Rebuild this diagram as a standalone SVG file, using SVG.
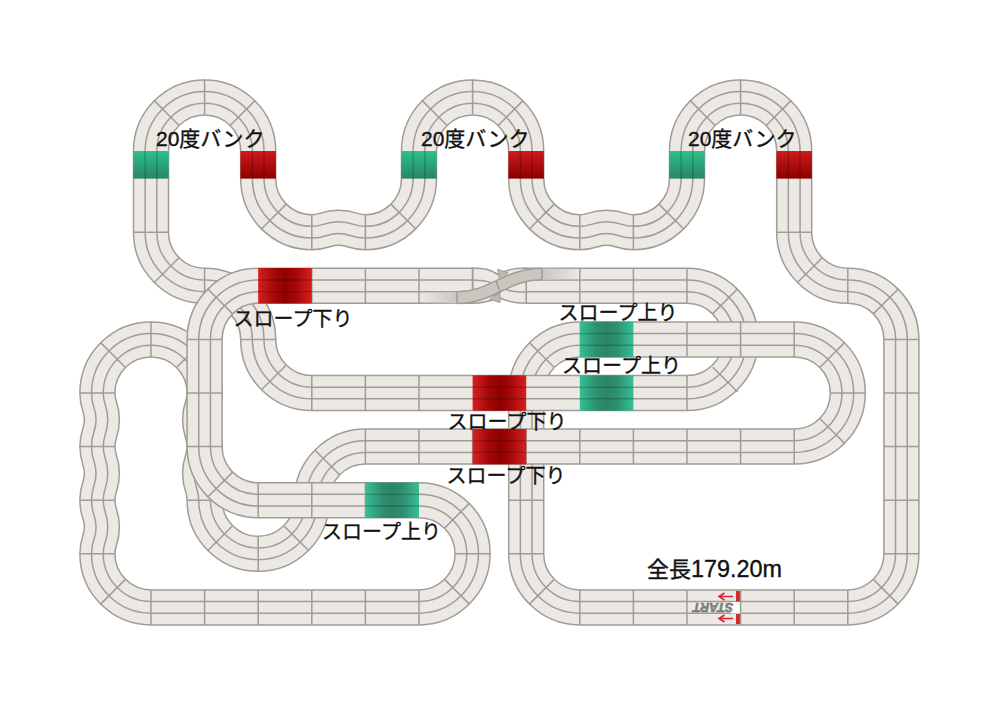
<svg xmlns="http://www.w3.org/2000/svg" width="1000" height="707" viewBox="0 0 1000 707">
<style>
.l1{fill:none;stroke:#a09c96;stroke-width:36.5}
.l2{fill:none;stroke:#ece8e3;stroke-width:33.5}
.l3{fill:none;stroke:#a09c96;stroke-width:13.2}
.l4{fill:none;stroke:#ece8e3;stroke-width:10.2}
.tie{fill:none;stroke:#a09c96;stroke-width:1.5}
.lane{fill:none;stroke:#000;stroke-opacity:.2;stroke-width:1.4}
.lbl{font-family:"Liberation Sans","Noto Sans CJK JP",sans-serif;font-size:20px;fill:#111;stroke:#111;stroke-width:.35}
</style>
<defs>
<linearGradient id="bankG" x1="0" y1="0" x2="0" y2="1"><stop offset="0" stop-color="#2cc08c"/><stop offset="1" stop-color="#2a8566"/></linearGradient>
<linearGradient id="bankR" x1="0" y1="0" x2="0" y2="1"><stop offset="0" stop-color="#d01a1a"/><stop offset="1" stop-color="#8a0000"/></linearGradient>
<linearGradient id="slopeG"><stop offset="0" stop-color="#36c093"/><stop offset=".3" stop-color="#2e9072"/><stop offset=".5" stop-color="#2c8568"/><stop offset=".7" stop-color="#2e9072"/><stop offset="1" stop-color="#36c093"/></linearGradient>
<linearGradient id="slopeR"><stop offset="0" stop-color="#d81f1f"/><stop offset=".3" stop-color="#a30808"/><stop offset=".5" stop-color="#900000"/><stop offset=".7" stop-color="#a30808"/><stop offset="1" stop-color="#d81f1f"/></linearGradient>
<linearGradient id="fadeL"><stop offset="0" stop-color="#c9c6c0" stop-opacity="0"/><stop offset="1" stop-color="#c9c6c0"/></linearGradient>
<linearGradient id="fadeR"><stop offset="0" stop-color="#c9c6c0"/><stop offset="1" stop-color="#c9c6c0" stop-opacity="0"/></linearGradient>
<path id="p1" d="M579.8 339.4A53.6 53.6 0 0 0 526.2 393V553.8A53.6 53.6 0 0 0 579.8 607.4H847.8A53.6 53.6 0 0 0 901.4 553.8V339.4A53.6 53.6 0 0 0 847.8 285.8A53.6 53.6 0 0 1 794.2 232.2V151A53.6 53.6 0 0 0 687 151V178.6A53.6 53.6 0 0 1 633.4 232.2C620 232.2 620 227.7 606.6 227.7C593.2 227.7 593.2 232.2 579.8 232.2A53.6 53.6 0 0 1 526.2 178.6V151A53.6 53.6 0 0 0 419 151V178.6A53.6 53.6 0 0 1 365.4 232.2C352 232.2 352 227.7 338.6 227.7C325.2 227.7 325.2 232.2 311.8 232.2A53.6 53.6 0 0 1 258.2 178.6V151A53.6 53.6 0 0 0 151 151V232.2A53.6 53.6 0 0 0 204.6 285.8A53.6 53.6 0 0 1 258.2 339.4A53.6 53.6 0 0 0 311.8 393"/>
<path id="p2" d="M311.8 393H687A53.6 53.6 0 0 0 740.6 339.4A53.6 53.6 0 0 0 687 285.8H526.2"/>
<path id="p3" d="M151 607.4A53.6 53.6 0 0 1 97.4 553.8C97.4 540.4 101.9 540.4 101.9 527C101.9 513.6 97.4 513.6 97.4 500.2C97.4 486.8 101.9 486.8 101.9 473.4C101.9 460 97.4 460 97.4 446.6C97.4 433.2 101.9 433.2 101.9 419.8C101.9 406.4 97.4 406.4 97.4 393A53.6 53.6 0 0 1 204.6 393C204.6 406.4 200.1 406.4 200.1 419.8C200.1 433.2 204.6 433.2 204.6 446.6C204.6 460 200.1 460 200.1 473.4C200.1 486.8 204.6 486.8 204.6 500.2A53.6 53.6 0 0 0 258.2 553.8A53.6 53.6 0 0 0 311.8 500.2A53.6 53.6 0 0 1 365.4 446.6H794.2A53.6 53.6 0 0 0 847.8 393A53.6 53.6 0 0 0 794.2 339.4H579.8"/>
<path id="p4" d="M472.6 285.8H258.2A53.6 53.6 0 0 0 204.6 339.4V446.6A53.6 53.6 0 0 0 258.2 500.2H419A53.6 53.6 0 0 1 472.6 553.8A53.6 53.6 0 0 1 419 607.4H151"/>
</defs>
<rect width="1000" height="707" fill="#fff"/>
<g id="connectors">
<g id="track-low">
<use href="#p1" class="l1"/><use href="#p1" class="l2"/><use href="#p1" class="l3"/><use href="#p1" class="l4"/>
<path class="tie" d="M554 367.2L529.2 342.4M508.7 446.6H543.7M508.7 500.2H543.7M508.7 553.8H543.7M554 579.6L529.2 604.4M579.8 589.9V624.9M633.4 589.9V624.9M687 589.9V624.9M794.2 589.9V624.9M847.8 589.9V624.9M873.6 579.6L898.4 604.4M883.9 553.8H918.9M883.9 500.2H918.9M883.9 446.6H918.9M883.9 393H918.9M883.9 339.4H918.9M873.6 313.6L898.4 288.8M847.8 268.3V303.3M822 258L797.2 282.8M776.7 232.2H811.7M766.4 125.2L791.2 100.4M740.6 114.5V79.5M714.8 125.2L690 100.4M659.2 204.4L684 229.2M633.4 214.7V249.7M579.8 214.7V249.7M554 204.4L529.2 229.2M498.4 125.2L523.2 100.4M472.6 114.5V79.5M446.8 125.2L422 100.4M391.2 204.4L416 229.2M365.4 214.7V249.7M311.8 214.7V249.7M286 204.4L261.2 229.2M230.4 125.2L255.2 100.4M204.6 114.5V79.5M178.8 125.2L154 100.4M133.5 232.2H168.5M178.8 258L154 282.8M204.6 268.3V303.3M230.4 313.6L255.2 288.8M240.7 339.4H275.7M286 365.2L261.2 390"/>
</g>
<g id="track-mid">
<use href="#p2" class="l1"/><use href="#p2" class="l2"/><use href="#p2" class="l3"/><use href="#p2" class="l4"/>
<path class="tie" d="M311.8 375.5V410.5M365.4 375.5V410.5M419 375.5V410.5M687 375.5V410.5M712.8 367.2L737.6 392M712.8 313.6L737.6 288.8M687 268.3V303.3M633.4 268.3V303.3M579.8 268.3V303.3M526.2 268.3V303.3"/>
</g>
<g id="track-upper">
<use href="#p3" class="l1"/><use href="#p3" class="l2"/><use href="#p3" class="l3"/><use href="#p3" class="l4"/>
<path class="tie" d="M79.9 553.8H114.9M79.9 500.2H114.9M79.9 446.6H114.9M79.9 393H114.9M125.2 367.2L100.4 342.4M151 357.5V321.5M176.8 367.2L201.6 342.4M187.1 500.2H222.1M232.4 526L207.6 550.8M258.2 536.3V571.3M284 526L308.8 550.8M125.2 579.6L100.4 604.4M339.6 474.8L314.8 450M365.4 429.1V464.1M419 429.1V464.1M472.6 429.1V464.1M526.2 429.1V464.1M579.8 429.1V464.1M633.4 429.1V464.1M687 429.1V464.1M740.6 429.1V464.1M794.2 429.1V464.1M820 418.8L844.8 443.6M830.3 393H865.3M820 367.2L844.8 342.4M794.2 321.9V356.9M740.6 321.9V356.9M687 321.9V356.9"/>
</g>
<g id="track-top">
<use href="#p4" class="l1"/><use href="#p4" class="l2"/><use href="#p4" class="l3"/><use href="#p4" class="l4"/>
<path class="tie" d="M419 268.3V303.3M365.4 268.3V303.3M311.8 268.3V303.3M232.4 313.6L207.6 288.8M187.1 339.4H222.1M187.1 393H222.1M187.1 446.6H222.1M232.4 472.4L207.6 497.2M258.2 482.7V517.7M311.8 482.7V517.7M365.4 482.7V517.7M444.8 527.9L469.6 503.1M455 553.8H490M444.8 579.6L469.6 604.4M419 589.9V624.9M365.4 589.9V624.9M311.8 589.9V624.9M258.2 589.9V624.9M204.6 589.9V624.9M151 589.9V624.9"/>
</g>
<g id="track-crossover">
<path d="M472.6 268C485 268 491 270 498 274.5C505 270 512 268 526.2 268V303.3C512 303.3 505 301 498 297C491 301 485 303.3 472.6 303.3Z" fill="#ece8e3" stroke="#a09c96" stroke-width="1.5"/>
<path class="tie" d="M472.6 280C488 280 492 283 500 287C508 291 514 292 526.2 292"/>
<path class="tie" d="M472.6 268.3V303.3"/>
<path d="M497.7 269.3L508 272.7L500 281.7ZM490 299.3L500 302.7L500 290.7Z" fill="#bdbab4" stroke="#a09c96"/>
<rect x="420" y="292" width="37" height="11.5" fill="url(#fadeL)"/>
<rect x="542" y="268.5" width="38" height="11.5" fill="url(#fadeR)"/>
<path d="M457 297.6C492 297.6 506 274 542 274" fill="none" stroke="#a09c96" stroke-width="13.2"/>
<path d="M457 297.6C492 297.6 506 274 542 274" fill="none" stroke="#c9c6c0" stroke-width="10.2"/>
<path class="tie" d="M457 291.5V303.5M542 268V280M496 281L500 291L495 296"/>
</g>
</g>
<g id="bank-sections">
<g id="bank-g1"><rect x="133.2" y="151" width="35.5" height="27.6" fill="url(#bankG)"/><path class="lane" d="M145.2 151V178.6M156.9 151V178.6"/></g>
<g id="bank-r1"><rect x="240.4" y="151" width="35.5" height="27.6" fill="url(#bankR)"/><path class="lane" d="M252.4 151V178.6M264 151V178.6"/></g>
<g id="bank-g2"><rect x="401.2" y="151" width="35.5" height="27.6" fill="url(#bankG)"/><path class="lane" d="M413.2 151V178.6M424.9 151V178.6"/></g>
<g id="bank-r2"><rect x="508.4" y="151" width="35.5" height="27.6" fill="url(#bankR)"/><path class="lane" d="M520.4 151V178.6M532 151V178.6"/></g>
<g id="bank-g3"><rect x="669.2" y="151" width="35.5" height="27.6" fill="url(#bankG)"/><path class="lane" d="M681.2 151V178.6M692.9 151V178.6"/></g>
<g id="bank-r3"><rect x="776.4" y="151" width="35.5" height="27.6" fill="url(#bankR)"/><path class="lane" d="M788.4 151V178.6M800 151V178.6"/></g>
</g>
<g id="slope-sections">
<g id="slope-r1"><rect x="258.2" y="268" width="53.6" height="35.5" fill="url(#slopeR)"/><path class="lane" d="M258.2 280H311.8M258.2 291.6H311.8"/></g>
<g id="slope-g1"><rect x="579.8" y="321.7" width="53.6" height="35.5" fill="url(#slopeG)"/><path class="lane" d="M579.8 333.6H633.4M579.8 345.2H633.4"/></g>
<g id="slope-g2"><rect x="579.8" y="375.3" width="53.6" height="35.5" fill="url(#slopeG)"/><path class="lane" d="M579.8 387.2H633.4M579.8 398.8H633.4"/></g>
<g id="slope-r2"><rect x="472.6" y="375.3" width="53.6" height="35.5" fill="url(#slopeR)"/><path class="lane" d="M472.6 387.2H526.2M472.6 398.8H526.2"/></g>
<g id="slope-r3"><rect x="472.6" y="428.9" width="53.6" height="35.5" fill="url(#slopeR)"/><path class="lane" d="M472.6 440.8H526.2M472.6 452.4H526.2"/></g>
<g id="slope-g3"><rect x="365.4" y="482.5" width="53.6" height="35.5" fill="url(#slopeG)"/><path class="lane" d="M365.4 494.4H419M365.4 506H419"/></g>
</g>
<g id="start-line">
<rect x="731" y="602" width="10" height="11.5" fill="#fff"/>
<rect x="736" y="591" width="4.6" height="10.5" fill="#d92732"/>
<rect x="736" y="614" width="4.6" height="10" fill="#d92732"/>
<path d="M740.6 589.9V625" class="tie"/>
<path d="M733 596.5H720M724.5 593L719 596.5L724.5 600M733 618.5H720M724.5 615L719 618.5L724.5 622" fill="none" stroke="#d92732" stroke-width="1.6"/>
<text x="713" y="607.4" transform="rotate(180 713 607.4)" dominant-baseline="central" text-anchor="middle" font-family="Liberation Sans, sans-serif" font-size="12.5" font-weight="bold" font-style="italic" fill="#7d7b77" stroke="#7d7b77" stroke-width=".5">START</text>
</g>
<g id="labels">
<text class="lbl" x="156" y="146" style="font-size:21px">20度バンク</text>
<text class="lbl" x="421" y="146" style="font-size:21px">20度バンク</text>
<text class="lbl" x="688" y="146" style="font-size:21px">20度バンク</text>
<text class="lbl" x="293" y="326" text-anchor="middle">スロープ下り</text>
<text class="lbl" x="618" y="320" text-anchor="middle">スロープ上り</text>
<text class="lbl" x="621.5" y="373" text-anchor="middle">スロープ上り</text>
<text class="lbl" x="507" y="429" text-anchor="middle">スロープ下り</text>
<text class="lbl" x="506" y="483" text-anchor="middle">スロープ下り</text>
<text class="lbl" x="381.5" y="539" text-anchor="middle">スロープ上り</text>
<text class="lbl" x="647" y="577" style="font-size:22px">全長<tspan style="font-size:23.4px">179.20m</tspan></text>
</g>
</svg>
